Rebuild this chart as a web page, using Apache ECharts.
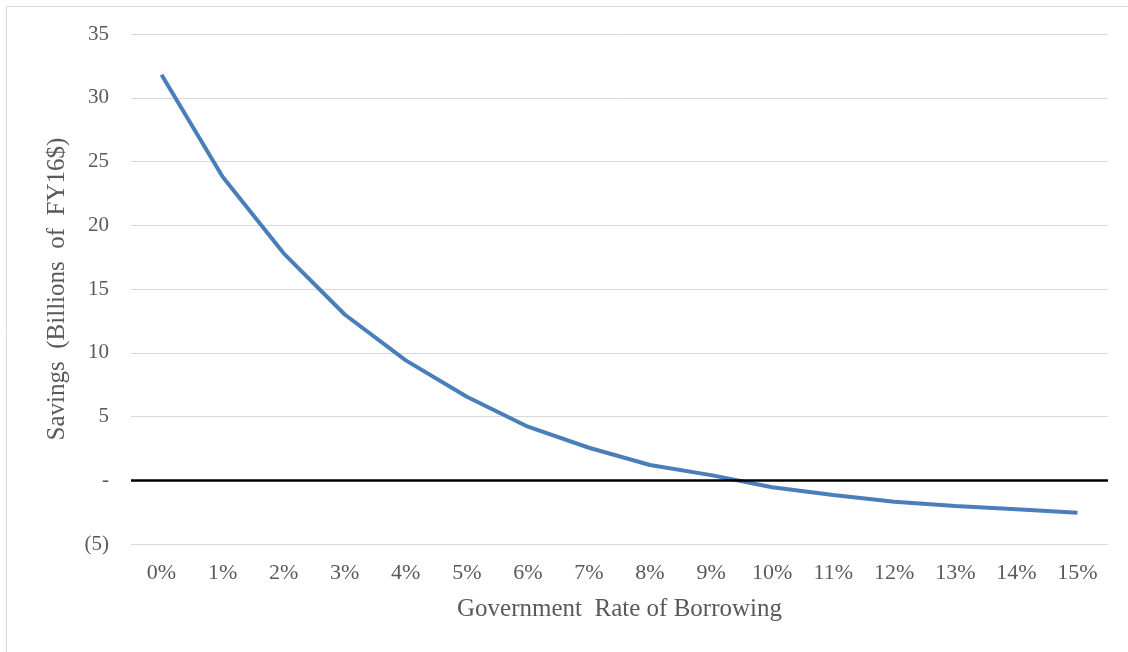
<!DOCTYPE html>
<html>
<head>
<meta charset="utf-8">
<script src="https://cdn.jsdelivr.net/npm/echarts@6/dist/echarts.min.js"></script>
<style>html,body{margin:0;padding:0;background:#fff;}#c{width:1128px;height:652px;}</style>
</head>
<body>
<div id="c"></div>
<script>
const categories = ['0%','1%','2%','3%','4%','5%','6%','7%','8%','9%','10%','11%','12%','13%','14%','15%'];
const savings = [31.8, 23.8, 17.8, 13.0, 9.4, 6.55, 4.2, 2.55, 1.2, 0.4, -0.55, -1.16, -1.68, -2.02, -2.28, -2.55];

const chart = echarts.init(document.getElementById('c'));
const font = 'Liberation Serif, Times New Roman, serif';
chart.setOption({
  animation: false,
  graphic: [{
    type: 'rect', silent: true,
    shape: { x: 6.5, y: 6.5, width: 1140, height: 670 },
    style: { fill: 'none', stroke: '#d9d9d9', lineWidth: 1 }
  }],
  grid: { left: 131, right: 20, top: 34, bottom: 108 },
  xAxis: {
    type: 'category',
    data: categories,
    boundaryGap: true,
    axisLine: { show: false },
    axisTick: { show: false },
    axisLabel: { color: '#595959', fontFamily: font, fontSize: 22, margin: 18 },
    name: 'Government  Rate of Borrowing',
    nameLocation: 'middle',
    nameGap: 53,
    nameTextStyle: { color: '#595959', fontFamily: font, fontSize: 25 }
  },
  yAxis: {
    type: 'value',
    min: -5, max: 35, interval: 5,
    axisLine: { show: false },
    axisTick: { show: false },
    splitLine: { lineStyle: { color: '#d9d9d9', width: 1 } },
    axisLabel: {
      color: '#595959', fontFamily: font, fontSize: 21, margin: 22,
      formatter: v => v === 0 ? '-' : (v < 0 ? '(' + (-v) + ')' : String(v))
    },
    name: 'Savings  (Billions  of  FY16$)',
    nameLocation: 'middle',
    nameGap: 61,
    nameTextStyle: { color: '#595959', fontFamily: font, fontSize: 25 }
  },
  series: [{
    type: 'line',
    data: savings,
    symbol: 'none',
    lineStyle: { color: '#4a7ebb', width: 4 },
    markLine: {
      silent: true,
      symbol: 'none',
      label: { show: false },
      lineStyle: { color: '#000', width: 2.5, type: 'solid' },
      data: [{ yAxis: 0 }]
    }
  }]
});
</script>
</body>
</html>
